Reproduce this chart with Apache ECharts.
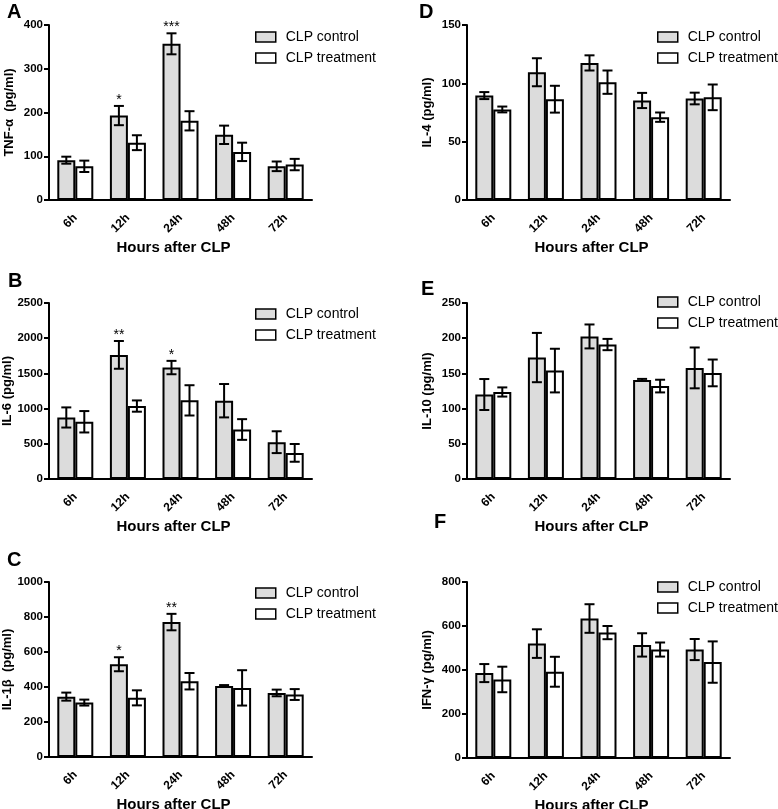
<!DOCTYPE html>
<html><head><meta charset="utf-8">
<script src="https://cdn.jsdelivr.net/npm/echarts@6/dist/echarts.min.js"></script>
<style>html,body{margin:0;padding:0;background:#fff}#c{width:778px;height:809px}</style>
</head><body><div id="c"></div><script>
// ---------- data ----------
const categories = ['6h', '12h', '24h', '48h', '72h'];
const seriesNames = ['CLP control', 'CLP treatment'];

const tnfControl = [91, 193, 357, 149, 77];
const tnfControlErr = [8, 22, 24, 21, 11];
const tnfTreatment = [77, 131, 181, 110, 81];
const tnfTreatmentErr = [13, 17, 22, 21, 13];
const tnfSig = ['', '*', '***', '', ''];
const tnfTicks = [0, 100, 200, 300, 400];

const il6Control = [874, 1763, 1583, 1112, 523];
const il6ControlErr = [143, 197, 95, 237, 155];
const il6Treatment = [813, 1036, 1117, 703, 371];
const il6TreatmentErr = [152, 80, 215, 147, 126];
const il6Sig = ['', '**', '*', '', ''];
const il6Ticks = [0, 500, 1000, 1500, 2000, 2500];

const il1bControl = [345, 530, 771, 406, 366];
const il1bControlErr = [23, 40, 47, 5, 19];
const il1bTreatment = [311, 338, 433, 395, 357];
const il1bTreatmentErr = [17, 43, 47, 101, 31];
const il1bSig = ['', '*', '**', '', ''];
const il1bTicks = [0, 200, 400, 600, 800, 1000];

const il4Control = [89.5, 109.5, 117.5, 85.3, 87];
const il4ControlErr = [3, 12, 6.5, 6.5, 5];
const il4Treatment = [77.6, 86.4, 101, 71, 88];
const il4TreatmentErr = [2.5, 11.5, 10, 4, 11];
const il4Sig = ['', '', '', '', ''];
const il4Ticks = [0, 50, 100, 150];

const il10Control = [120, 172.5, 202.5, 140.7, 157.8];
const il10ControlErr = [22, 35, 17, 1.5, 29];
const il10Treatment = [123.6, 154, 191, 132, 150.7];
const il10TreatmentErr = [6.5, 31, 8, 9, 19];
const il10Sig = ['', '', '', '', ''];
const il10Ticks = [0, 50, 100, 150, 200, 250];

const ifnControl = [386, 520, 634, 514, 493];
const ifnControlErr = [41, 65, 65, 53, 48];
const ifnTreatment = [357, 392, 570, 493, 436];
const ifnTreatmentErr = [58, 68, 30, 32, 94];
const ifnSig = ['', '', '', '', ''];
const ifnTicks = [0, 200, 400, 600, 800];

const yTitles = ['TNF-α  (pg/ml)', 'IL-6 (pg/ml)', 'IL-1β  (pg/ml)', 'IL-4 (pg/ml)', 'IL-10 (pg/ml)', 'IFN-γ (pg/ml)'];
const xTitle = 'Hours after CLP';
const panelLetters = ['A', 'B', 'C', 'D', 'E', 'F'];

// ---------- layout ----------
const FONT = "'Liberation Sans', Arial, Helvetica, sans-serif";
const BAR_W = 18;
const layout = [
  { left: 49, top: 25, height: 175, legendLeft: 255, legendTop: 30, letter: [7, 2] },
  { left: 49, top: 303, height: 176, legendLeft: 255, legendTop: 307, letter: [8, 271] },
  { left: 49, top: 582, height: 175, legendLeft: 255, legendTop: 586, letter: [7, 550] },
  { left: 467, top: 25, height: 175, legendLeft: 657, legendTop: 30, letter: [419, 2] },
  { left: 467, top: 303, height: 176, legendLeft: 657, legendTop: 295, letter: [421, 279] },
  { left: 467, top: 582, height: 176, legendLeft: 657, legendTop: 580, letter: [434, 512] }
];
const panels = [
  { c: tnfControl, ce: tnfControlErr, t: tnfTreatment, te: tnfTreatmentErr, sig: tnfSig, ticks: tnfTicks },
  { c: il6Control, ce: il6ControlErr, t: il6Treatment, te: il6TreatmentErr, sig: il6Sig, ticks: il6Ticks },
  { c: il1bControl, ce: il1bControlErr, t: il1bTreatment, te: il1bTreatmentErr, sig: il1bSig, ticks: il1bTicks },
  { c: il4Control, ce: il4ControlErr, t: il4Treatment, te: il4TreatmentErr, sig: il4Sig, ticks: il4Ticks },
  { c: il10Control, ce: il10ControlErr, t: il10Treatment, te: il10TreatmentErr, sig: il10Sig, ticks: il10Ticks },
  { c: ifnControl, ce: ifnControlErr, t: ifnTreatment, te: ifnTreatmentErr, sig: ifnSig, ticks: ifnTicks }
];

function errRenderer(sign, sigArr) {
  return function (params, api) {
    const ci = api.value(0), v = api.value(1), e = api.value(2);
    const top = api.coord([ci, v + e]);
    const bot = api.coord([ci, v - e]);
    const x = top[0] + sign * BAR_W / 2;
    const cap = 5;
    const ls = { stroke: '#000', lineWidth: 2 };
    const children = [
      { type: 'line', shape: { x1: x, y1: top[1], x2: x, y2: bot[1] }, style: ls },
      { type: 'line', shape: { x1: x - cap, y1: top[1], x2: x + cap, y2: top[1] }, style: ls },
      { type: 'line', shape: { x1: x - cap, y1: bot[1], x2: x + cap, y2: bot[1] }, style: ls }
    ];
    const s = sigArr ? sigArr[params.dataIndex] : '';
    if (s) {
      children.push({ type: 'text', style: { text: s, x: x, y: top[1] - 6, align: 'center', verticalAlign: 'middle', font: '14px ' + FONT, fill: '#000' } });
    }
    return { type: 'group', children: children };
  };
}

const grid = [], xAxis = [], yAxis = [], series = [], legend = [], graphic = [];
panels.forEach((p, i) => {
  const L = layout[i];
  grid.push({ left: L.left, top: L.top, width: 263, height: L.height, containLabel: false, outerBoundsMode: 'none' });
  xAxis.push({
    type: 'category', gridIndex: i, data: categories,
    name: xTitle, nameLocation: 'middle', nameGap: 40,
    nameTextStyle: { fontFamily: FONT, fontWeight: 'bold', fontSize: 15, color: '#000', padding: [0, 14, 0, 0] },
    axisLine: { lineStyle: { color: '#000', width: 2 } },
    axisTick: { alignWithLabel: true, length: 5, lineStyle: { color: '#000', width: 2 } },
    axisLabel: { rotate: 45, margin: 16, fontFamily: FONT, fontWeight: 'bold', fontSize: 12, color: '#000' },
    splitLine: { show: false }
  });
  const tk = p.ticks;
  yAxis.push({
    type: 'value', gridIndex: i, min: tk[0], max: tk[tk.length - 1], interval: tk[1] - tk[0],
    name: yTitles[i], nameLocation: 'middle', nameGap: 33,
    nameTextStyle: { fontFamily: FONT, fontWeight: 'bold', fontSize: 13, color: '#000' },
    axisLine: { show: true, lineStyle: { color: '#000', width: 2 } },
    axisTick: { show: true, length: 5, lineStyle: { color: '#000', width: 2 } },
    axisLabel: { margin: 6, fontFamily: FONT, fontWeight: 'bold', fontSize: 11.5, color: '#000', formatter: (v) => String(v) },
    splitLine: { show: false }
  });
  const barStyle = (fill) => ({ color: fill, borderColor: '#000', borderWidth: 2 });
  series.push({ type: 'bar', name: seriesNames[0], xAxisIndex: i, yAxisIndex: i, data: p.c, barWidth: BAR_W, barGap: '0%', itemStyle: barStyle('#dcdcdc'), animation: false, emphasis: { disabled: true } });
  series.push({ type: 'bar', name: seriesNames[1], xAxisIndex: i, yAxisIndex: i, data: p.t, barWidth: BAR_W, barGap: '0%', itemStyle: barStyle('#ffffff'), animation: false, emphasis: { disabled: true } });
  series.push({ type: 'custom', xAxisIndex: i, yAxisIndex: i, renderItem: errRenderer(-1, p.sig), data: p.c.map((v, k) => [k, v, p.ce[k]]), z: 10, clip: false, animation: false, silent: true });
  series.push({ type: 'custom', xAxisIndex: i, yAxisIndex: i, renderItem: errRenderer(1, null), data: p.t.map((v, k) => [k, v, p.te[k]]), z: 10, clip: false, animation: false, silent: true });
  legend.push({
    left: L.legendLeft, top: L.legendTop, orient: 'vertical', padding: 0, itemGap: 7,
    itemWidth: 20, itemHeight: 10, icon: 'rect', selectedMode: false, data: seriesNames,
    itemStyle: { borderColor: '#000', borderWidth: 1.5 },
    textStyle: { fontFamily: FONT, fontSize: 14, color: '#000', padding: [0, 0, 0, 5] }
  });
  graphic.push({ type: 'text', left: L.letter[0], top: L.letter[1], style: { text: panelLetters[i], font: 'bold 20px ' + FONT, fill: '#000' } });
});

const chart = echarts.init(document.getElementById('c'), null, { renderer: 'canvas' });
chart.setOption({ backgroundColor: '#fff', animation: false, grid, xAxis, yAxis, series, legend, graphic });
</script></body></html>
